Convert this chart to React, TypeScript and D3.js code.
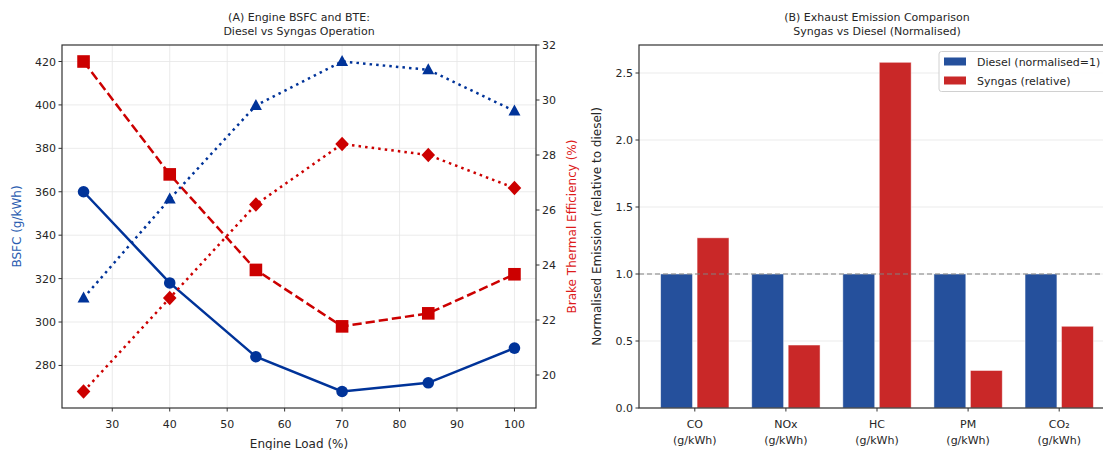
import React from "react";
import * as d3 from "d3";

const loads = [25, 40, 55, 70, 85, 100];
const bsfcDiesel = [360, 318, 284, 268, 272, 288];
const bsfcSyngas = [420, 368, 324, 298, 304, 322];
const bteDiesel = [22.8, 26.4, 29.8, 31.4, 31.1, 29.6];
const bteSyngas = [19.4, 22.8, 26.2, 28.4, 28.0, 26.8];
const loadTicks = [30, 40, 50, 60, 70, 80, 90, 100];
const bsfcTicks = [280, 300, 320, 340, 360, 380, 400, 420];
const bteTicks = [20, 22, 24, 26, 28, 30, 32];

const emissionNames = ["CO", "NOx", "HC", "PM", "CO₂"];
const emissionUnit = "(g/kWh)";
const emissionDiesel = [1, 1, 1, 1, 1];
const emissionSyngas = [1.27, 0.47, 2.58, 0.28, 0.61];
const emissionTicks = [0, 0.5, 1.0, 1.5, 2.0, 2.5];

const NAVY = "#003399";
const RED = "#cc0000";
const BAR_BLUE = "#25509c";
const BAR_RED = "#c92828";
const FONT = "DejaVu Sans";
const TXT = "#262626";

export default function App() {
  const top = 45, bottom = 408;
  // Left panel
  const x = d3.scaleLinear().domain([21.25, 103.75]).range([62, 536]);
  const yL = d3.scaleLinear().domain([260.4, 427.6]).range([bottom, top]);
  const yR = d3.scaleLinear().domain([18.8, 32.0]).range([bottom, top]);
  const lineL = (vals: number[]) =>
    d3.line<number>().x((_, i) => x(loads[i])).y((v) => yL(v))(vals) || "";
  const lineR = (vals: number[]) =>
    d3.line<number>().x((_, i) => x(loads[i])).y((v) => yR(v))(vals) || "";

  // Right panel
  const xB = d3.scaleLinear().domain([-0.6125, 4.6125]).range([639, 1115]);
  const yB = d3.scaleLinear().domain([0, 2.709]).range([bottom, top]);
  const bw = 0.35;

  const tickFont = 11;

  return (
    <div style={{ position: "absolute", left: 0, top: 0 }}>
      <svg width={1103} height={450} style={{ display: "block", background: "#fff" }} fontFamily={FONT}>
        <rect x={0} y={0} width={1103} height={450} fill="#fff" />
        {/* ===== Left panel ===== */}
        <g>
          {loadTicks.map((t) => (
            <line key={"gx" + t} x1={x(t)} x2={x(t)} y1={top} y2={bottom} stroke="#e6e6e6" strokeWidth={0.8} />
          ))}
          {bsfcTicks.map((t) => (
            <line key={"gy" + t} x1={62} x2={536} y1={yL(t)} y2={yL(t)} stroke="#e6e6e6" strokeWidth={0.8} />
          ))}
          {/* BSFC lines */}
          <path d={lineL(bsfcDiesel)} fill="none" stroke={NAVY} strokeWidth={2.5} />
          <path d={lineL(bsfcSyngas)} fill="none" stroke={RED} strokeWidth={2.5} strokeDasharray="9.25,4" />
          {bsfcDiesel.map((v, i) => (
            <circle key={"cd" + i} cx={x(loads[i])} cy={yL(v)} r={5.8} fill={NAVY} />
          ))}
          {bsfcSyngas.map((v, i) => (
            <rect key={"sq" + i} x={x(loads[i]) - 6.3} y={yL(v) - 6.3} width={12.6} height={12.6} fill={RED} />
          ))}
          {/* BTE lines */}
          <path d={lineR(bteDiesel)} fill="none" stroke={NAVY} strokeWidth={2.5} strokeDasharray="2.5,4.1" />
          <path d={lineR(bteSyngas)} fill="none" stroke={RED} strokeWidth={2.5} strokeDasharray="2.5,4.1" />
          {bteDiesel.map((v, i) => {
            const cx = x(loads[i]), cy = yR(v);
            return <path key={"tr" + i} d={`M${cx},${cy - 6.5}L${cx + 6},${cy + 4.5}L${cx - 6},${cy + 4.5}Z`} fill={NAVY} />;
          })}
          {bteSyngas.map((v, i) => {
            const cx = x(loads[i]), cy = yR(v);
            return <path key={"dm" + i} d={`M${cx},${cy - 7.3}L${cx + 6.8},${cy}L${cx},${cy + 7.3}L${cx - 6.8},${cy}Z`} fill={RED} />;
          })}
          {/* spines */}
          <rect x={62} y={top} width={474} height={bottom - top} fill="none" stroke="#333" strokeWidth={1.2} />
          {/* x ticks */}
          {loadTicks.map((t) => (
            <g key={"xt" + t}>
              <line x1={x(t)} x2={x(t)} y1={bottom} y2={bottom + 3.5} stroke="#333" strokeWidth={1} />
              <text x={x(t)} y={bottom + 20} textAnchor="middle" fontSize={tickFont} fill={TXT}>{t}</text>
            </g>
          ))}
          {/* left y ticks */}
          {bsfcTicks.map((t) => (
            <g key={"yl" + t}>
              <line x1={62} x2={58.5} y1={yL(t)} y2={yL(t)} stroke="#333" strokeWidth={1} />
              <text x={56} y={yL(t) + 4} textAnchor="end" fontSize={tickFont} fill={TXT}>{t}</text>
            </g>
          ))}
          {/* right y ticks */}
          {bteTicks.map((t) => (
            <g key={"yr" + t}>
              <line x1={536} x2={539.5} y1={yR(t)} y2={yR(t)} stroke="#333" strokeWidth={1} />
              <text x={542} y={yR(t) + 4} textAnchor="start" fontSize={tickFont} fill={TXT}>{t}</text>
            </g>
          ))}
          <text x={299} y={448} textAnchor="middle" fontSize={12} fill={TXT}>Engine Load (%)</text>
          <text transform={`translate(21,${(top + bottom) / 2}) rotate(-90)`} textAnchor="middle" fontSize={12} fill="#2a5cb0">BSFC (g/kWh)</text>
          <text transform={`translate(576,${(top + bottom) / 2}) rotate(-90)`} textAnchor="middle" fontSize={12} fill="#dd1c1c">Brake Thermal Efficiency (%)</text>
          <text x={299} y={21} textAnchor="middle" fontSize={11} fill={TXT}>(A) Engine BSFC and BTE:</text>
          <text x={299} y={35} textAnchor="middle" fontSize={11} fill={TXT}>Diesel vs Syngas Operation</text>
        </g>

        {/* ===== Right panel ===== */}
        <g>
          {emissionTicks.map((t) => (
            <line key={"bg" + t} x1={639} x2={1115} y1={yB(t)} y2={yB(t)} stroke="#e6e6e6" strokeWidth={0.8} />
          ))}
          {emissionDiesel.map((v, i) => (
            <rect key={"bd" + i} x={xB(i - bw - 0.025)} y={yB(v)} width={xB(bw) - xB(0)} height={yB(0) - yB(v)}
              fill={BAR_BLUE} stroke="#ffffff" strokeOpacity={0.6} strokeWidth={0.8} />
          ))}
          {emissionSyngas.map((v, i) => (
            <rect key={"bs" + i} x={xB(i + 0.025)} y={yB(v)} width={xB(bw) - xB(0)} height={yB(0) - yB(v)}
              fill={BAR_RED} stroke="#ffffff" strokeOpacity={0.6} strokeWidth={0.8} />
          ))}
          <line x1={639} x2={1115} y1={yB(1)} y2={yB(1)} stroke="#808080" strokeWidth={1.2} strokeDasharray="5,3" />
          <rect x={639} y={top} width={476} height={bottom - top} fill="none" stroke="#333" strokeWidth={1.2} />
          {emissionNames.map((n, i) => (
            <g key={"bx" + i}>
              <line x1={xB(i)} x2={xB(i)} y1={bottom} y2={bottom + 3.5} stroke="#333" strokeWidth={1} />
              <text x={xB(i)} y={bottom + 20} textAnchor="middle" fontSize={tickFont} fill={TXT}>{n}</text>
              <text x={xB(i)} y={bottom + 36} textAnchor="middle" fontSize={tickFont} fill={TXT}>{emissionUnit}</text>
            </g>
          ))}
          {emissionTicks.map((t) => (
            <g key={"by" + t}>
              <line x1={639} x2={635.5} y1={yB(t)} y2={yB(t)} stroke="#333" strokeWidth={1} />
              <text x={633} y={yB(t) + 4} textAnchor="end" fontSize={tickFont} fill={TXT}>{t.toFixed(1)}</text>
            </g>
          ))}
          <text transform={`translate(601,${(top + bottom) / 2}) rotate(-90)`} textAnchor="middle" fontSize={12} fill={TXT}>Normalised Emission (relative to diesel)</text>
          <text x={877} y={21} textAnchor="middle" fontSize={11} fill={TXT}>(B) Exhaust Emission Comparison</text>
          <text x={877} y={35} textAnchor="middle" fontSize={11} fill={TXT}>Syngas vs Diesel (Normalised)</text>
          {/* legend */}
          <rect x={939} y={51.5} width={172} height={40} rx={2.5} fill="#fff" fillOpacity={0.85} stroke="#d0d0d0" strokeWidth={1} />
          <rect x={944} y={57.5} width={22} height={8} fill={BAR_BLUE} />
          <text x={977} y={65.5} fontSize={11} fill={TXT}>Diesel (normalised=1)</text>
          <rect x={944} y={76.5} width={22} height={8} fill={BAR_RED} />
          <text x={977} y={84.5} fontSize={11} fill={TXT}>Syngas (relative)</text>
        </g>
      </svg>
    </div>
  );
}
